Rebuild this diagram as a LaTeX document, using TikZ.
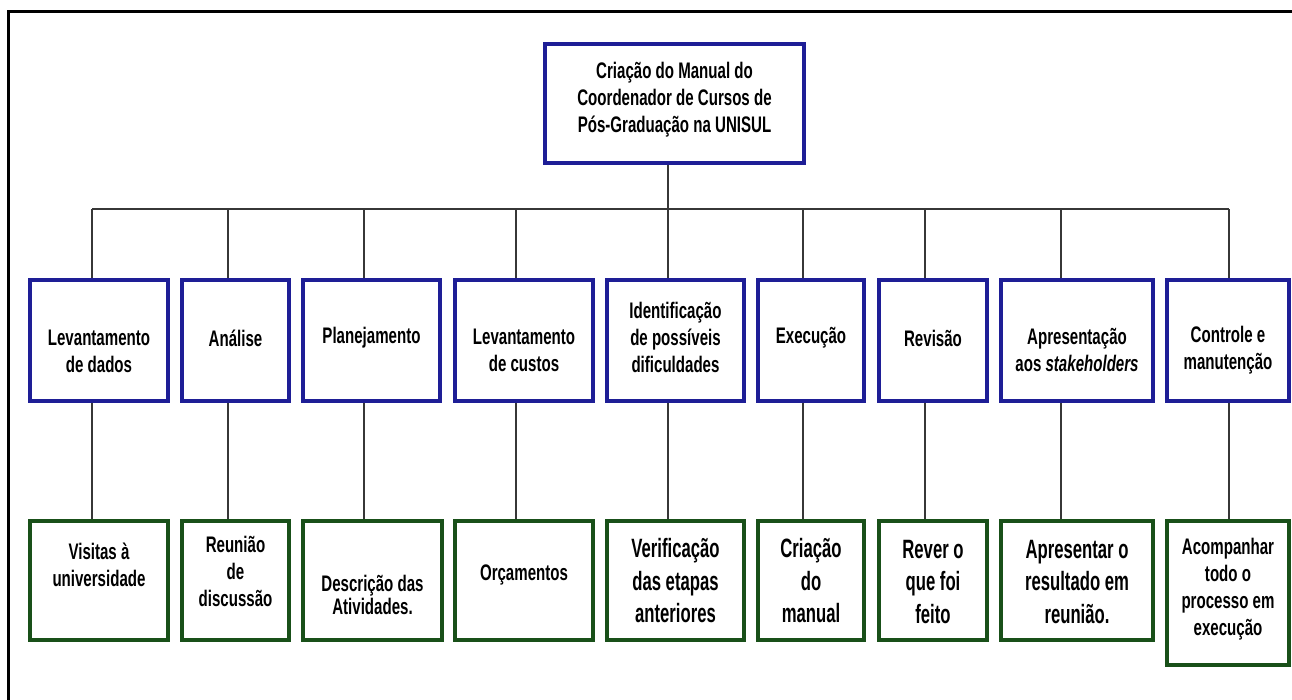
\documentclass[tikz,border=0pt]{standalone}
\usepackage{fontspec}
\newfontfamily\nf{Liberation Sans}[FakeStretch=0.67]
\newfontfamily\nfbig{Liberation Sans}[FakeStretch=0.63]
\definecolor{boxblue}{RGB}{30,30,150}
\definecolor{boxgreen}{RGB}{25,80,25}
\definecolor{connc}{RGB}{55,55,55}
\begin{document}
\begin{tikzpicture}[x=1pt,y=-1pt,
  bbox/.style={draw=boxblue,line width=3.2pt,minimum height=121pt,inner sep=0pt},
  gbox/.style={draw=boxgreen,line width=3.2pt,minimum height=119pt,inner sep=0pt},
  lbl/.style={align=center,inner sep=0pt,font=\nf\bfseries\fontsize{22.5}{27}\selectfont},
  lblbig/.style={align=center,inner sep=0pt,font=\nfbig\bfseries\fontsize{26.5}{32.5}\selectfont},
  conn/.style={draw=connc,line width=1.5pt},
  framel/.style={draw=black,line width=3pt}]
\useasboundingbox (0,0) rectangle (1292,699);
% frame
\draw[framel] (8,705) -- (8,11) -- (1300,11);
% top
\node[bbox,minimum width=259pt,minimum height=119pt] (top) at (674.5,103.5) {};
\node[lbl] (toptext) at (674.5,100) {Criação do Manual do\\Coordenador de Cursos de\\Pós-Graduação na UNISUL};
% blue boxes
\node[bbox,minimum width=138pt] (b1) at (99,340.5) {};
\node[bbox,minimum width=107pt] (b2) at (235.5,340.5) {};
\node[bbox,minimum width=137pt] (b3) at (371.5,340.5) {};
\node[bbox,minimum width=138pt] (b4) at (524,340.5) {};
\node[bbox,minimum width=137pt] (b5) at (675.5,340.5) {};
\node[bbox,minimum width=106pt] (b6) at (811,340.5) {};
\node[bbox,minimum width=108pt] (b7) at (933,340.5) {};
\node[bbox,minimum width=152pt] (b8) at (1077,340.5) {};
\node[bbox,minimum width=122pt] (b9) at (1228,340.5) {};
\node[lbl] (b1t) at (99,351) {Levantamento\\de dados};
\node[lbl] (b2t) at (235.5,338) {Análise};
\node[lbl] (b3t) at (371.5,338) {Planejamento};
\node[lbl] (b4t) at (524,350) {Levantamento\\de custos};
\node[lbl] (b5t) at (675.5,337) {Identificação\\de possíveis\\dificuldades};
\node[lbl] (b6t) at (811,338) {Execução};
\node[lbl] (b7t) at (933,338) {Revisão};
\node[lbl] (b8t) at (1077,350) {Apresentação\\aos \textit{stakeholders}};
\node[lbl] (b9t) at (1228,350) {Controle e\\manutenção};
% green boxes
\node[gbox,minimum width=138pt] (g1) at (99,580.5) {};
\node[gbox,minimum width=107pt] (g2) at (235.5,580.5) {};
\node[gbox,minimum width=139pt] (g3) at (372.5,580.5) {};
\node[gbox,minimum width=138pt] (g4) at (524,580.5) {};
\node[gbox,minimum width=137pt] (g5) at (675.5,580.5) {};
\node[gbox,minimum width=106pt] (g6) at (811,580.5) {};
\node[gbox,minimum width=108pt] (g7) at (933,580.5) {};
\node[gbox,minimum width=152pt] (g8) at (1077,580.5) {};
\node[gbox,minimum width=122pt,minimum height=144pt] (g9) at (1228,593) {};
\node[lbl] (g1t) at (99,565) {Visitas à\\universidade};
\node[lbl] (g2t) at (235.5,571) {Reunião\\de\\discussão};
\node[lbl,font=\nf\bfseries\fontsize{22.5}{23.5}\selectfont] (g3t) at (372.5,595) {Descrição das\\Atividades.};
\node[lbl] (g4t) at (524,575) {Orçamentos};
\node[lblbig] (g5t) at (675.5,581) {Verificação\\das etapas\\anteriores};
\node[lblbig] (g6t) at (811,581) {Criação\\do\\manual};
\node[lblbig] (g7t) at (933,582) {Rever o\\que foi\\feito};
\node[lblbig] (g8t) at (1077,582) {Apresentar o\\resultado em\\reunião.};
\node[lbl] (g9t) at (1228,589) {Acompanhar\\todo o\\processo em\\execução};
% connectors
\coordinate (k0) at (668,209);
\draw[conn] (top.south -| k0) -- (k0);
\foreach \i/\x in {1/92,2/228,3/364,4/516,5/668,6/803,7/925,8/1061,9/1229}{
  \coordinate (k\i) at (\x,209);
}
\draw[conn] (k1) -- (k9);
\foreach \i in {1,...,9}{
  \draw[conn] (k\i) -- (k\i |- b\i.north);
  \draw[conn] (k\i |- b\i.south) -- (k\i |- g\i.north);
}
\end{tikzpicture}
\end{document}
